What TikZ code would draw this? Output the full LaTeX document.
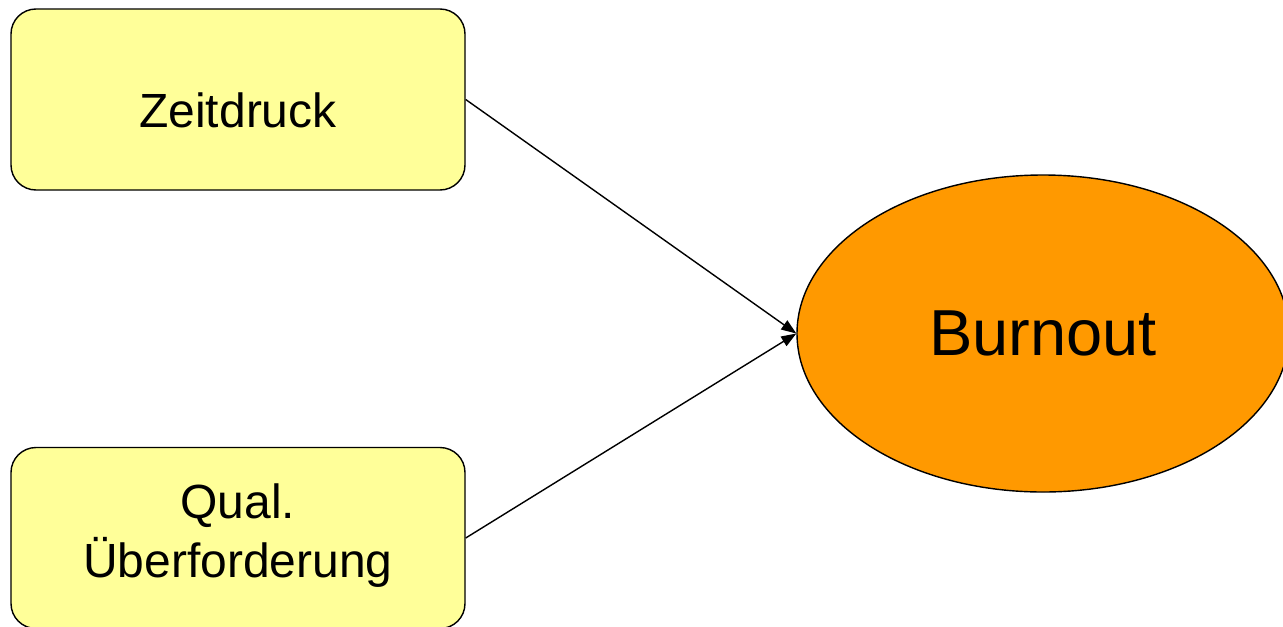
\documentclass[tikz,border=0pt]{standalone}
\usepackage{fontspec}
\setmainfont{Liberation Sans}
\usetikzlibrary{arrows.meta,shapes.geometric}
\definecolor{boxyellow}{HTML}{FFFF99}
\definecolor{burnorange}{HTML}{FF9900}
\begin{document}
\begin{tikzpicture}[line width=0.8pt,
  factor/.style={draw, fill=boxyellow, rounded corners=0.5cm, inner sep=0pt,
    minimum width=9.08cm, minimum height=3.62cm, align=center, text depth=0pt,
    font=\fontsize{27.3}{33.5}\selectfont},
  outcome/.style={draw, fill=burnorange, ellipse, inner sep=0pt,
    minimum width=9.84cm, minimum height=6.34cm, font=\fontsize{37}{44}\selectfont}]
\useasboundingbox (0,0) rectangle (25.66,-12.52);
\node[factor, text height=1.1cm] (P_0_0) at (4.76,-1.99) {Zeitdruck};
\node[factor, text height=1.56cm] (P_0_1) at (4.76,-10.76) {Qual.\\Überforderung};
\node[outcome] (P_1_0) at (20.86,-6.67) {Burnout};
\draw[-{Triangle[length=0.3cm,width=0.22cm]}] (P_0_0.east) -- (P_1_0.west);
\draw[-{Triangle[length=0.3cm,width=0.22cm]}] (P_0_1.east) -- (P_1_0.west);
\end{tikzpicture}
\end{document}
